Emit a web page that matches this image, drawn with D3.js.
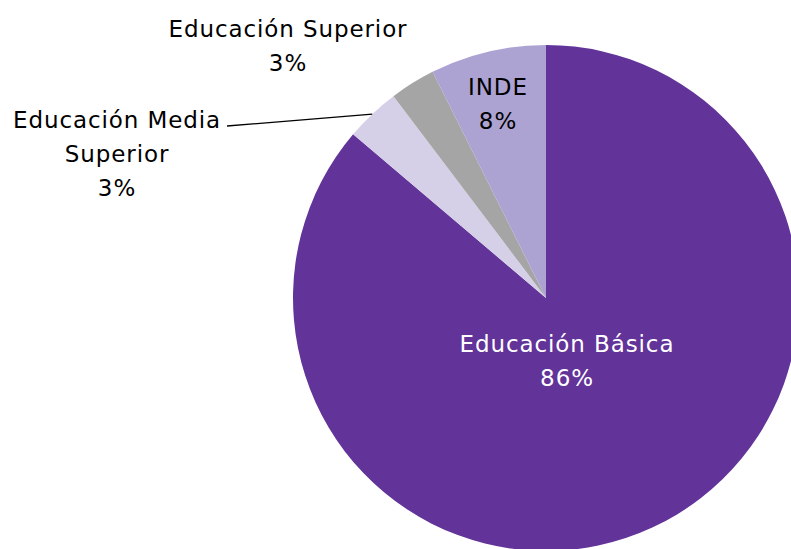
<!DOCTYPE html>
<html>
<head>
<meta charset="utf-8">
<script src="https://cdn.jsdelivr.net/npm/d3@7"></script>
<style>
  body { margin: 0; background: #fff; overflow: hidden; }
  text { font-family: "DejaVu Sans", sans-serif; font-size: 23px; letter-spacing: 0.9px; }
</style>
</head>
<body>
<div id="chart"></div>
<script>
// slice names, values (percent) and colours, clockwise from 12 o'clock
const categories = ["Educación Básica", "Educación Media Superior", "Educación Superior", "INDE"];
const values = [86.2, 3.5, 2.9, 7.4];
const pctLabels = ["86%", "3%", "3%", "8%"];
const colors = ["#623399", "#d5d0e7", "#a5a5a5", "#ada3d3"];

const width = 791;
const height = 549;
const cx = 546, cy = 298, radius = 253;

const svg = d3.select("#chart")
  .append("svg")
  .attr("width", width)
  .attr("height", height);

const g = svg.append("g")
  .attr("transform", `translate(${cx},${cy})`);

const pie = d3.pie().sort(null).value(d => d);
const arcs = pie(values);
const arc = d3.arc().innerRadius(0).outerRadius(radius);

g.selectAll("path")
  .data(arcs)
  .enter()
  .append("path")
  .attr("d", arc)
  .attr("fill", (d, i) => colors[i]);

// label lines for each slice, positioned relative to pie centre
const labelSpecs = [
  { lines: ["Educación Básica", pctLabels[0]], x: 21, y: 54, fill: "#fff" },
  { lines: ["Educación Media", "Superior", pctLabels[1]], x: -429, y: -170, fill: "#000" },
  { lines: ["Educación Superior", pctLabels[2]], x: -258, y: -261, fill: "#000" },
  { lines: [categories[3], pctLabels[3]], x: -48, y: -203, fill: "#000" }
];

labelSpecs.forEach(s => {
  const t = g.append("text")
    .attr("text-anchor", "middle")
    .attr("fill", s.fill);
  s.lines.forEach((l, j) => {
    t.append("tspan")
      .attr("x", s.x)
      .attr("y", s.y + j * 34)
      .text(l);
  });
});

// leader line for Educación Media Superior
const mid = arcs[1];
const a = (mid.startAngle + mid.endAngle) / 2;
const edge = [Math.sin(a) * radius, -Math.cos(a) * radius];
g.append("path")
  .attr("d", d3.line()([edge, [-319, -172]]))
  .attr("fill", "none")
  .attr("stroke", "#000")
  .attr("stroke-width", 1.3);
</script>
</body>
</html>
